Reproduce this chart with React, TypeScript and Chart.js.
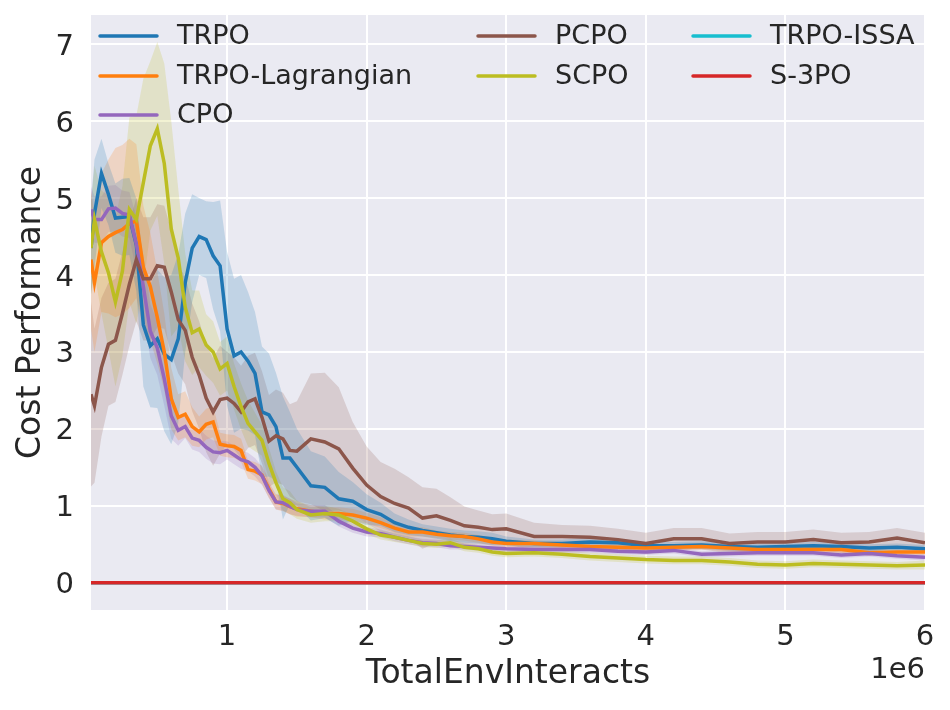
import React, { useEffect, useRef } from 'react';
import Chart from 'chart.js/auto';

// TotalEnvInteracts, in units of 1e6
const xs = [
  0.025, 0.05, 0.1, 0.15, 0.2, 0.25, 0.3, 0.35, 0.4, 0.45,
  0.5, 0.55, 0.6, 0.65, 0.7, 0.75, 0.8, 0.85, 0.9, 0.95,
  1.0, 1.05, 1.1, 1.15, 1.2, 1.25, 1.3, 1.35, 1.4, 1.45,
  1.5, 1.6, 1.7, 1.8, 1.9, 2.0, 2.1, 2.2, 2.3, 2.4,
  2.5, 2.6, 2.7, 2.8, 2.9, 3.0, 3.2, 3.4, 3.6, 3.8,
  4.0, 4.2, 4.4, 4.6, 4.8, 5.0, 5.2, 5.4, 5.6, 5.8,
  6.0,
];

const trpo = [
  4.35, 4.8, 5.32, 5.05, 4.74, 4.75, 4.76, 4.39, 3.35, 3.08,
  3.17, 2.97, 2.9, 3.17, 3.9, 4.35, 4.5, 4.46, 4.25, 4.12,
  3.3, 2.95, 3.0, 2.88, 2.72, 2.22, 2.18, 2.03, 1.62, 1.62,
  1.5, 1.26, 1.24, 1.09, 1.06, 0.95, 0.89, 0.78, 0.72, 0.68,
  0.65, 0.62, 0.6, 0.59, 0.57, 0.54, 0.51, 0.51, 0.53, 0.52,
  0.48, 0.48, 0.49, 0.47, 0.46, 0.47, 0.48, 0.47, 0.45, 0.46,
  0.44,
];
const trpoLag = [
  4.2, 3.9, 4.42, 4.5, 4.55, 4.59, 4.67, 4.7, 4.1, 3.85,
  3.45, 3.0, 2.39, 2.15, 2.19, 2.03, 1.96, 2.06, 2.09, 1.8,
  1.78, 1.77, 1.72, 1.47, 1.45, 1.4, 1.22, 1.05, 1.03, 0.99,
  0.96, 0.93, 0.9, 0.9, 0.88, 0.84, 0.78, 0.71, 0.66, 0.66,
  0.63, 0.61, 0.6, 0.57, 0.53, 0.51, 0.51, 0.49, 0.47, 0.46,
  0.45, 0.46, 0.47, 0.45, 0.43, 0.43, 0.43, 0.43, 0.39, 0.4,
  0.4,
];
const cpo = [
  4.85, 4.72, 4.72, 4.86, 4.87, 4.8, 4.78, 4.4, 3.85, 3.27,
  3.05, 2.65, 2.17, 1.98, 2.03, 1.88, 1.85, 1.76, 1.7, 1.69,
  1.72, 1.66, 1.6, 1.57, 1.5, 1.39, 1.2, 1.05, 1.04, 0.99,
  0.95, 0.93, 0.93, 0.8, 0.71, 0.66, 0.64, 0.59, 0.55, 0.52,
  0.51, 0.48, 0.47, 0.46, 0.45, 0.44, 0.43, 0.43, 0.43, 0.41,
  0.4, 0.42, 0.37, 0.38, 0.39, 0.39, 0.39, 0.36, 0.38, 0.35,
  0.33,
];
const pcpo = [
  2.45, 2.3, 2.8, 3.1, 3.15, 3.5, 3.88, 4.2, 3.95, 3.95,
  4.12, 4.1, 3.78, 3.42, 3.28, 2.93, 2.7, 2.4, 2.22, 2.38,
  2.4, 2.33, 2.22, 2.35, 2.39, 2.15, 1.84, 1.91, 1.87, 1.72,
  1.71, 1.87, 1.83, 1.74, 1.49, 1.27, 1.12, 1.03, 0.97, 0.84,
  0.87, 0.81, 0.74, 0.72, 0.69, 0.7, 0.6, 0.6, 0.59, 0.56,
  0.51, 0.57, 0.57, 0.51, 0.53, 0.53, 0.56, 0.52, 0.53, 0.58,
  0.52,
];
const scpo = [
  4.35, 4.72, 4.3, 4.03, 3.65, 4.05, 4.85, 4.72, 5.2, 5.68,
  5.9, 5.45, 4.6, 4.22, 3.58, 3.25, 3.3, 3.09, 3.0, 2.78,
  2.85, 2.55, 2.29, 2.07, 1.96, 1.85, 1.55, 1.3, 1.09, 1.04,
  0.95, 0.88, 0.9, 0.88, 0.8, 0.7, 0.62, 0.59, 0.55, 0.51,
  0.5, 0.52, 0.46, 0.44, 0.4, 0.38, 0.39, 0.37, 0.34, 0.32,
  0.3, 0.29, 0.29, 0.27, 0.24, 0.23, 0.25, 0.24, 0.23, 0.22,
  0.23,
];
const trpoIssa = [
  0, 0, 0, 0, 0, 0, 0, 0, 0, 0, 0, 0, 0, 0, 0, 0, 0, 0, 0, 0, 0, 0, 0, 0, 0, 0, 0, 0, 0, 0,
  0, 0, 0, 0, 0, 0, 0, 0, 0, 0, 0, 0, 0, 0, 0, 0, 0, 0, 0, 0, 0, 0, 0, 0, 0, 0, 0, 0, 0, 0, 0,
];
const s3po = [
  0, 0, 0, 0, 0, 0, 0, 0, 0, 0, 0, 0, 0, 0, 0, 0, 0, 0, 0, 0, 0, 0, 0, 0, 0, 0, 0, 0, 0, 0,
  0, 0, 0, 0, 0, 0, 0, 0, 0, 0, 0, 0, 0, 0, 0, 0, 0, 0, 0, 0, 0, 0, 0, 0, 0, 0, 0, 0, 0, 0, 0,
];

// half-width of the shaded bands
const trpoSpread = [
  0.6, 0.7, 0.45, 0.4, 0.45, 0.5, 0.5, 0.6, 0.8, 0.8,
  0.9, 1.0, 1.1, 1.1, 0.9, 0.7, 0.5, 0.5, 0.7, 0.85,
  1.0, 1.0, 1.0, 0.9, 0.8, 0.85, 0.8, 0.7, 0.8, 0.6,
  0.5, 0.45, 0.4, 0.35, 0.25, 0.2, 0.15, 0.12, 0.1, 0.08,
  0.08, 0.08, 0.08, 0.08, 0.08, 0.06, 0.05, 0.05, 0.05, 0.05,
  0.05, 0.05, 0.05, 0.05, 0.05, 0.05, 0.05, 0.05, 0.05, 0.05,
  0.05,
];
const trpoLagSpread = [
  0.9, 0.9, 0.9, 1.0, 1.1, 1.1, 1.1, 1.0, 0.8, 0.7,
  0.6, 0.5, 0.4, 0.3, 0.3, 0.25, 0.2, 0.2, 0.2, 0.15,
  0.15, 0.15, 0.15, 0.12, 0.12, 0.12, 0.12, 0.1, 0.1, 0.1,
  0.1, 0.08, 0.08, 0.08, 0.08, 0.07, 0.07, 0.06, 0.06, 0.06,
  0.05, 0.05, 0.05, 0.05, 0.05, 0.05, 0.04, 0.04, 0.04, 0.04,
  0.04, 0.04, 0.04, 0.04, 0.04, 0.04, 0.04, 0.04, 0.04, 0.04,
  0.04,
];
const cpoSpread = [
  0.3, 0.3, 0.3, 0.3, 0.3, 0.3, 0.3, 0.35, 0.4, 0.35,
  0.35, 0.35, 0.3, 0.2, 0.15, 0.15, 0.15, 0.15, 0.15, 0.15,
  0.12, 0.12, 0.12, 0.12, 0.12, 0.12, 0.1, 0.1, 0.1, 0.1,
  0.08, 0.08, 0.08, 0.07, 0.06, 0.06, 0.05, 0.05, 0.05, 0.05,
  0.05, 0.05, 0.04, 0.04, 0.04, 0.04, 0.04, 0.04, 0.04, 0.04,
  0.04, 0.04, 0.04, 0.04, 0.04, 0.04, 0.04, 0.04, 0.04, 0.04,
  0.04,
];
const pcpoSpread = [
  1.2, 1.0, 0.9, 0.8, 0.8, 0.8, 0.8, 0.8, 0.8, 0.8,
  0.8, 0.8, 0.8, 0.7, 0.7, 0.7, 0.7, 0.7, 0.7, 0.7,
  0.6, 0.6, 0.6, 0.6, 0.6, 0.6, 0.6, 0.6, 0.6, 0.6,
  0.65, 0.85, 0.9, 0.8, 0.6, 0.5, 0.45, 0.45, 0.4, 0.4,
  0.35, 0.3, 0.25, 0.22, 0.2, 0.2, 0.18, 0.15, 0.15, 0.14,
  0.14, 0.14, 0.14, 0.13, 0.13, 0.13, 0.13, 0.13, 0.13, 0.13,
  0.13,
];
const scpoSpread = [
  0.6, 0.7, 0.8, 1.0, 1.1, 1.1, 1.2, 1.35, 1.35, 1.1,
  1.13, 1.3, 1.4, 0.9, 0.7, 0.55, 0.5, 0.4, 0.4, 0.35,
  0.35, 0.3, 0.3, 0.3, 0.25, 0.2, 0.2, 0.15, 0.15, 0.15,
  0.12, 0.1, 0.1, 0.08, 0.08, 0.07, 0.06, 0.06, 0.05, 0.05,
  0.05, 0.05, 0.05, 0.05, 0.05, 0.05, 0.05, 0.05, 0.05, 0.05,
  0.05, 0.05, 0.05, 0.05, 0.05, 0.05, 0.05, 0.05, 0.05, 0.05,
  0.06,
];

const xTicks = [1, 2, 3, 4, 5, 6];
const yTicks = [0, 1, 2, 3, 4, 5, 6, 7];

const FONT = "'DejaVu Sans', sans-serif";
const TEXT = '#262626';

interface Series { label: string; values: number[]; spread: number[] | null; rgb: string; }

const series: Series[] = [
  { label: 'TRPO', values: trpo, spread: trpoSpread, rgb: '31,119,180' },
  { label: 'TRPO-Lagrangian', values: trpoLag, spread: trpoLagSpread, rgb: '255,127,14' },
  { label: 'CPO', values: cpo, spread: cpoSpread, rgb: '148,103,189' },
  { label: 'PCPO', values: pcpo, spread: pcpoSpread, rgb: '140,86,75' },
  { label: 'SCPO', values: scpo, spread: scpoSpread, rgb: '188,189,34' },
  { label: 'TRPO-ISSA', values: trpoIssa, spread: null, rgb: '23,190,207' },
  { label: 'S-3PO', values: s3po, spread: null, rgb: '214,39,40' },
];

const pts = (ys: number[]) => ys.map((y, i) => ({ x: xs[i], y }));

const backgroundPlugin = {
  id: 'darkgrid',
  beforeDraw(chart: any) {
    const { ctx, chartArea: a } = chart;
    ctx.save();
    ctx.fillStyle = '#eaeaf2';
    ctx.fillRect(a.left, a.top, a.right - a.left, a.bottom - a.top);
    ctx.restore();
  },
};

// matplotlib style legend: 3 columns, filled column by column
const legendPlugin = {
  id: 'mplLegend',
  afterDraw(chart: any) {
    const ctx = chart.ctx;
    const cols = [100, 478, 693];
    const rows = [36, 76, 115];
    const perCol = [3, 2, 2];
    ctx.save();
    ctx.font = `27px ${FONT}`;
    ctx.textBaseline = 'middle';
    ctx.textAlign = 'left';
    let k = 0;
    perCol.forEach((n, c) => {
      for (let r = 0; r < n; r++) {
        const s = series[k++];
        ctx.strokeStyle = `rgb(${s.rgb})`;
        ctx.lineWidth = 3.5;
        ctx.lineCap = 'round';
        ctx.beginPath();
        ctx.moveTo(cols[c], rows[r]);
        ctx.lineTo(cols[c] + 57, rows[r]);
        ctx.stroke();
        ctx.fillStyle = TEXT;
        ctx.fillText(s.label, cols[c] + 77, rows[r] + 1);
      }
    });
    // offset text of the x axis
    ctx.font = `29px ${FONT}`;
    ctx.textAlign = 'right';
    ctx.fillText('1e6', chart.chartArea.right, 670);
    ctx.restore();
  },
};

const App: React.FC = () => {
  const canvasRef = useRef<HTMLCanvasElement | null>(null);

  useEffect(() => {
    document.body.style.margin = '0';
    const ctx = canvasRef.current?.getContext('2d');
    if (!ctx) return;

    const datasets: any[] = [];
    series.forEach((s) => {
      if (s.spread) {
        const sp = s.spread;
        datasets.push({
          label: s.label + ' low',
          data: pts(s.values.map((v, j) => v - sp[j])),
          borderWidth: 0, pointRadius: 0, fill: false, order: 20,
        });
        datasets.push({
          label: s.label + ' high',
          data: pts(s.values.map((v, j) => v + sp[j])),
          borderWidth: 0, pointRadius: 0, fill: '-1', order: 20,
          backgroundColor: `rgba(${s.rgb},0.2)`,
        });
      }
    });
    series.forEach((s, i) => {
      datasets.push({
        label: s.label,
        data: pts(s.values),
        borderColor: `rgb(${s.rgb})`,
        borderWidth: 3.5,
        pointRadius: 0,
        fill: false,
        tension: 0,
        order: series.length - i,
      });
    });

    const chart = new Chart(ctx, {
      type: 'line',
      data: { datasets },
      options: {
        animation: false,
        responsive: false,
        events: [],
        layout: { padding: { left: 0, right: 25, top: 15, bottom: 0 } },
        plugins: { legend: { display: false }, tooltip: { enabled: false } },
        scales: {
          x: {
            type: 'linear',
            min: 0.025,
            max: 6,
            afterBuildTicks: (s: any) => { s.ticks = xTicks.map(v => ({ value: v })); },
            afterFit: (s: any) => { s.height = 100; s.paddingLeft = 0; s.paddingRight = 0; },
            grid: { color: '#ffffff', lineWidth: 2, drawTicks: false },
            border: { display: false },
            ticks: { font: { family: FONT, size: 29 }, color: TEXT, padding: 10, maxRotation: 0 },
            title: {
              display: true, text: 'TotalEnvInteracts', color: TEXT,
              font: { family: FONT, size: 33 }, padding: { top: 0, bottom: 16 },
            },
          },
          y: {
            min: -0.355,
            max: 7.38,
            afterBuildTicks: (s: any) => { s.ticks = yTicks.map(v => ({ value: v })); },
            afterFit: (s: any) => { s.width = 91; s.paddingTop = 0; s.paddingBottom = 0; },
            grid: { color: '#ffffff', lineWidth: 2, drawTicks: false },
            border: { display: false },
            ticks: { font: { family: FONT, size: 29 }, color: TEXT, padding: 17, labelOffset: 3 },
            title: {
              display: true, text: 'Cost Performance', color: TEXT,
              font: { family: FONT, size: 33 }, padding: { top: 12, bottom: 0 },
            },
          },
        },
      },
      plugins: [backgroundPlugin, legendPlugin],
    });

    return () => chart.destroy();
  }, []);

  return (
    <div style={{ width: 950, height: 710, background: '#ffffff' }}>
      <canvas ref={canvasRef} width={950} height={710} />
    </div>
  );
};

export default App;
